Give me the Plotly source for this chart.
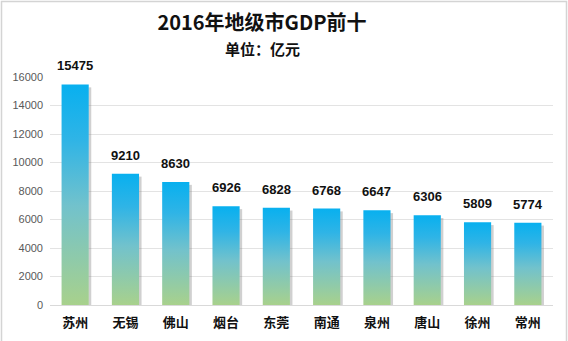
import plotly.graph_objects as go

cities = ["苏州", "无锡", "佛山", "烟台", "东莞", "南通", "泉州", "唐山", "徐州", "常州"]
gdp = [15475, 9210, 8630, 6926, 6828, 6768, 6647, 6306, 5809, 5774]
y_ticks = [0, 2000, 4000, 6000, 8000, 10000, 12000, 14000, 16000]
y_tick_text = ["0", "2000", "4000", "6000", "8000", "10000", "12000", "14000", "16000"]

CJK = "Noto Sans CJK SC"
half = 0.27
shadow_w = 0.05
shadow_drop = 200

fig = go.Figure()

grad = [[0.0, "#a8d18c"], [0.45, "#72c2cc"], [0.75, "#2fb4e6"], [1.0, "#08b0ef"]]

for i, v in enumerate(gdp):
    fig.add_trace(go.Scatter(
        x=[i + half - 0.01, i + half + shadow_w, i + half + shadow_w, i + half - 0.01, i + half - 0.01],
        y=[0, 0, v - shadow_drop, v - shadow_drop, 0],
        mode="lines", fill="toself", line=dict(width=0),
        fillcolor="rgba(120,120,120,0.35)", hoverinfo="skip", showlegend=False))
    fig.add_trace(go.Scatter(
        x=[i - half, i + half, i + half, i - half, i - half],
        y=[0, 0, v, v, 0],
        mode="lines", fill="toself", line=dict(width=0),
        fillgradient=dict(type="vertical", colorscale=grad),
        hoverinfo="skip", showlegend=False))

W, H = 568, 341
L, R, T, B = 50, 15, 77, 36
plot_w = W - L - R
plot_h = H - T - B

annotations = []
for i, v in enumerate(gdp):
    annotations.append(dict(
        x=i, y=v, xref="x", yref="y", text=f"<b>{v}</b>", showarrow=False,
        yanchor="bottom", yshift=9,
        font=dict(family="Liberation Sans, " + CJK, size=13, color="#111111")))

center_x = 262
annotations.append(dict(
    x=(center_x - L) / plot_w, y=(H - B - 48.5) / plot_h, xref="paper", yref="paper",
    xanchor="center", yanchor="middle",
    text="<b>单位：亿元</b>", showarrow=False,
    font=dict(family=CJK, size=15, color="#111111")))

fig.update_layout(
    width=W, height=H,
    margin=dict(l=L, r=R, t=T, b=B, autoexpand=False),
    paper_bgcolor="white", plot_bgcolor="white",
    title=dict(text="<b>2016年地级市GDP前十</b>", x=center_x / W, xref="container", xanchor="center",
               y=1 - 23 / H, yref="container", yanchor="middle",
               font=dict(family=CJK, size=20, color="#111111")),
    xaxis=dict(range=[-0.5, 9.5], tickmode="array", tickvals=list(range(len(cities))),
               ticktext=[f"<b>{c}</b>" for c in cities], showgrid=False, zeroline=False,
               showline=False, ticks="", ticklabelstandoff=8, automargin=False,
               tickfont=dict(family=CJK, size=13, color="#111111"),
               fixedrange=True),
    yaxis=dict(range=[0, 16000], tickmode="array", tickvals=y_ticks, ticktext=y_tick_text,
               showgrid=True, gridcolor="#e3e3e3", gridwidth=1, zeroline=True,
               zerolinecolor="#d9d9d9", zerolinewidth=1, ticks="", ticklabelstandoff=6,
               automargin=False,
               tickfont=dict(family="Liberation Sans", size=11, color="#595959"),
               fixedrange=True),
    annotations=annotations,
    showlegend=False,
)

fig.add_shape(type="rect", xref="paper", yref="paper",
              x0=(1.5 - L) / plot_w, x1=(W - 1.5 - L) / plot_w,
              y0=(B - (H - 2)) / plot_h, y1=(H - B - 1.5) / plot_h,
              line=dict(color="#d4d4d4", width=1.5), layer="below")

fig.write_html("out.html")
